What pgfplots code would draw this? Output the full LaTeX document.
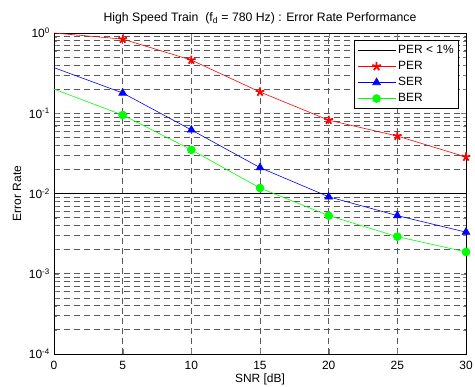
\documentclass[border=0pt]{standalone}
\usepackage{fontspec}
\setmainfont{Liberation Sans}
\usepackage{pgfplots}
\pgfplotsset{compat=1.18}
\usetikzlibrary{calc}
\begin{document}
\fontsize{12}{14}\selectfont
\begin{tikzpicture}
\begin{axis}[
  scale only axis,
  width=412bp, height=321bp,
  xmin=0, xmax=30, ymode=log, ymin=1e-4, ymax=1,
  xtick={0,5,10,15,20,25,30},
  ytick={1e-4,1e-3,1e-2,1e-1,1},
  yticklabels={10\textsuperscript{-4},10\textsuperscript{-3},10\textsuperscript{-2},10\textsuperscript{-1},10\textsuperscript{0}},
  /pgf/number format/assume math mode=true,
  tick label style={font=\fontsize{12}{14}\selectfont},
  xticklabel style={anchor=center, yshift=-11bp},
  label style={font=\fontsize{12}{14}\selectfont},
  title style={font=\fontsize{12.3}{14}\selectfont, at={(axis description cs:0.5,1)}, anchor=center, yshift=9bp},
  title={High Speed Train\ \ (f\textsubscript{d} = 780 Hz) : Error Rate Performance},
  xlabel={SNR [dB]}, ylabel={Error Rate},
  xlabel style={at={(axis description cs:0.5,0)}, anchor=center, yshift=-25bp},
  ylabel style={at={(axis description cs:-0.0898,0.5)}, anchor=center},
  grid=both,
  major grid style={black!65, dash pattern=on 6bp off 4bp, line width=0.7bp},
  minor grid style={black!65, dash pattern=on 6bp off 4bp, line width=0.7bp},
  xminorgrids=false,
  tick align=inside, axis line style={line width=0.9bp},
  major tick length=5bp, minor tick length=3bp,
  legend image code/.code={\draw[mark repeat=2,mark phase=2] plot coordinates {(0bp,0bp)(19bp,0bp)(38bp,0bp)};},
  legend style={at={(1,1)}, anchor=north east, xshift=-7bp, yshift=-7bp, font=\fontsize{12}{14}\selectfont, draw=black, line width=0.7bp, inner xsep=3bp, inner ysep=3bp, row sep=2bp, cells={anchor=west}},
  legend cell align=left,
]
\addplot[black, line width=1.2bp] coordinates {(0,0.01) (30,0.01)};
\addlegendentry{PER < 1\%}
\addplot[red, line width=0.6bp, forget plot] coordinates {(0,1.0) (5,0.84)};
\addplot[red, line width=0.6bp, mark=star, mark options={solid, line width=1.8bp, mark size=4.5bp}] coordinates {
(5,0.84) (10,0.46) (15,0.184) (20,0.082) (25,0.052) (30,0.0285)};
\addlegendentry{PER}
\addplot[blue, line width=0.6bp, forget plot] coordinates {(0,0.37) (5,0.179)};
\addplot[blue, line width=0.6bp, mark=triangle*, mark options={solid, fill=blue, mark size=4.5bp}] coordinates {
(5,0.179) (10,0.062) (15,0.021) (20,0.0091) (25,0.0053) (30,0.0033)};
\addlegendentry{SER}
\addplot[green, line width=0.6bp, forget plot] coordinates {(0,0.2) (5,0.095)};
\addplot[green, line width=0.6bp, mark=*, mark options={solid, fill=green, mark size=4bp}] coordinates {
(5,0.095) (10,0.035) (15,0.0117) (20,0.0053) (25,0.0029) (30,0.00187)};
\addlegendentry{BER}
\end{axis}
\pgfresetboundingbox
\path[use as bounding box] ($(current axis.south west)+(-54bp,-33bp)$) rectangle ($(current axis.north east)+(9bp,33bp)$);
\end{tikzpicture}
\end{document}
